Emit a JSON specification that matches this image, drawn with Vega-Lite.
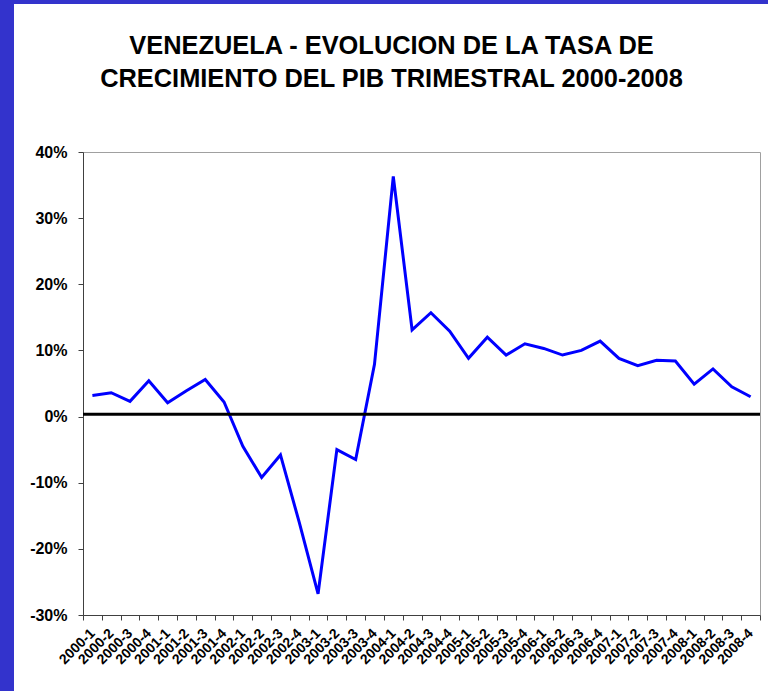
{
  "$schema": "https://vega.github.io/schema/vega-lite/v6.json",
  "padding": 0,
  "background": "white",
  "spacing": 0,
  "config": {"font": "Liberation Sans"},
  "vconcat": [
    {
      "width": 768,
      "height": 4,
      "view": {"stroke": null},
      "data": {"values": [{"part": "frame"}]},
      "mark": {"type": "rect", "color": "#3333CC"},
      "encoding": {}
    },
    {
      "spacing": 0,
      "hconcat": [
        {
          "width": 14,
          "height": 687,
          "view": {"stroke": null},
          "data": {"values": [{"part": "frame"}]},
          "mark": {"type": "rect", "color": "#3333CC"},
          "encoding": {}
        },
        {
          "spacing": 25,
          "vconcat": [
            {
              "width": 10,
              "height": 4,
              "view": {"stroke": null},
              "data": {"values": [{"part": "spacer"}]},
              "mark": {"type": "rect", "color": "white", "opacity": 0},
              "encoding": {}
            },
            {
              "width": 677,
              "height": 463,
              "title": {
                "text": ["VENEZUELA - EVOLUCION DE LA TASA DE", "CRECIMIENTO DEL PIB TRIMESTRAL 2000-2008"],
                "fontSize": 25.4,
                "font": "Liberation Sans",
                "fontWeight": "bold",
                "lineHeight": 33,
                "offset": 52,
                "dx": -30,
                "anchor": "middle",
                "color": "black"
              },
              "view": {"stroke": "#A0A0A0"},
              "data": {
                "values": [
                  {"q": "2000-1", "v": 3.2},
                  {"q": "2000-2", "v": 3.6},
                  {"q": "2000-3", "v": 2.3},
                  {"q": "2000-4", "v": 5.4},
                  {"q": "2001-1", "v": 2.1},
                  {"q": "2001-2", "v": 3.9},
                  {"q": "2001-3", "v": 5.6},
                  {"q": "2001-4", "v": 2.2},
                  {"q": "2002-1", "v": -4.5},
                  {"q": "2002-2", "v": -9.2},
                  {"q": "2002-3", "v": -5.8},
                  {"q": "2002-4", "v": -16.0},
                  {"q": "2003-1", "v": -26.8},
                  {"q": "2003-2", "v": -5.0},
                  {"q": "2003-3", "v": -6.5},
                  {"q": "2003-4", "v": 7.9},
                  {"q": "2004-1", "v": 36.3},
                  {"q": "2004-2", "v": 13.1},
                  {"q": "2004-3", "v": 15.7},
                  {"q": "2004-4", "v": 12.9},
                  {"q": "2005-1", "v": 8.8},
                  {"q": "2005-2", "v": 12.0},
                  {"q": "2005-3", "v": 9.3},
                  {"q": "2005-4", "v": 11.0},
                  {"q": "2006-1", "v": 10.3},
                  {"q": "2006-2", "v": 9.3},
                  {"q": "2006-3", "v": 10.0},
                  {"q": "2006-4", "v": 11.4},
                  {"q": "2007-1", "v": 8.8},
                  {"q": "2007-2", "v": 7.7},
                  {"q": "2007-3", "v": 8.5},
                  {"q": "2007-4", "v": 8.4},
                  {"q": "2008-1", "v": 4.9},
                  {"q": "2008-2", "v": 7.2},
                  {"q": "2008-3", "v": 4.5},
                  {"q": "2008-4", "v": 3.0}
                ]
              },
              "layer": [
                {
                  "mark": {"type": "line", "color": "#0000FF", "strokeWidth": 3},
                  "encoding": {
                    "x": {
                      "field": "q",
                      "type": "ordinal",
                      "sort": null,
                      "scale": {"type": "band", "paddingInner": 0, "paddingOuter": 0},
                      "axis": {
                        "title": null,
                        "labelAngle": -45,
                        "tickBand": "extent",
                        "labelFontSize": 14,
                        "labelFontWeight": "bold",
                        "labelColor": "black",
                        "domainColor": "#404040",
                        "tickColor": "#404040",
                        "tickSize": 5,
                        "labelPadding": 6,
                        "labelOffset": -5
                      }
                    },
                    "y": {
                      "field": "v",
                      "type": "quantitative",
                      "scale": {"domain": [-30, 40], "nice": false, "zero": false},
                      "axis": {
                        "title": null,
                        "values": [-30, -20, -10, 0, 10, 20, 30, 40],
                        "labelExpr": "datum.value + '%'",
                        "grid": false,
                        "labelFontSize": 16,
                        "labelFontWeight": "bold",
                        "labelColor": "black",
                        "tickSize": 5,
                        "labelPadding": 11,
                        "minExtent": 68,
                        "maxExtent": 68,
                        "domainColor": "#404040",
                        "tickColor": "#404040"
                      }
                    }
                  }
                },
                {
                  "data": {"values": [{"base": 0.35}]},
                  "mark": {"type": "rule", "color": "black", "strokeWidth": 3},
                  "encoding": {"y": {"field": "base", "type": "quantitative"}}
                }
              ]
            }
          ]
        }
      ]
    }
  ]
}
